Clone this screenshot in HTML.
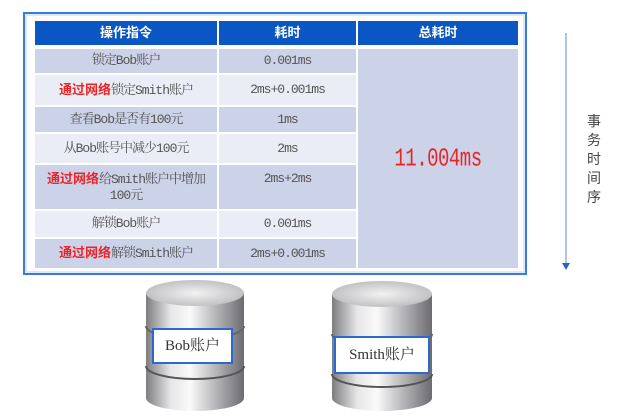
<!DOCTYPE html>
<html><head><meta charset="utf-8"><style>
body{margin:0;width:618px;height:417px;background:#fff;position:relative;overflow:hidden;font-family:"Liberation Serif","Noto Serif CJK SC",serif;}
.a{position:absolute;box-sizing:border-box;display:flex;align-items:center;justify-content:center;text-align:center;font-size:13px;letter-spacing:-1px;color:#555;line-height:16px;font-family:"Liberation Mono","Noto Serif CJK SC",monospace}
.h{background:#0a57c4;color:#fff;font-weight:bold;font-family:"Liberation Sans","Noto Sans CJK SC",sans-serif;font-size:13px;letter-spacing:0}
.d{background:#ccd2e8}.l{background:#ebedf6}
.r{color:#e8262a;font-weight:bold;font-family:"Liberation Sans","Noto Sans CJK SC",sans-serif;letter-spacing:0}
</style></head><body>
<div style="position:absolute;left:23px;top:12px;width:504px;height:263px;border:2px solid #3a7ad8;box-sizing:border-box;box-shadow:inset 0 0 0 2px #dfe9fa"></div>
<div class="a h" style="left:35px;top:21px;width:182px;height:24px">操作指令</div>
<div class="a h" style="left:219px;top:21px;width:137px;height:24px">耗时</div>
<div class="a h" style="left:358px;top:21px;width:160px;height:24px">总耗时</div>

<div class="a d" style="left:35px;top:49px;width:182px;height:24px">锁定Bob账户</div>
<div class="a d" style="left:219px;top:49px;width:137px;height:24px">0.001ms</div>
<div class="a l" style="left:35px;top:75px;width:182px;height:30px"><span><span class="r">通过网络</span>锁定Smith账户</span></div>
<div class="a l" style="left:219px;top:75px;width:137px;height:30px">2ms+0.001ms</div>
<div class="a d" style="left:35px;top:107px;width:182px;height:25px">查看Bob是否有100元</div>
<div class="a d" style="left:219px;top:107px;width:137px;height:25px">1ms</div>
<div class="a l" style="left:35px;top:134px;width:182px;height:29px">从Bob账号中减少100元</div>
<div class="a l" style="left:219px;top:134px;width:137px;height:29px">2ms</div>
<div class="a d" style="left:35px;top:165px;width:182px;height:44px;padding:0 2px"><span><span class="r">通过网络</span>给Smith账户中增加<br>100元</span></div>
<div class="a d" style="left:219px;top:165px;width:137px;height:44px;align-items:flex-start;padding-top:6px">2ms+2ms</div>
<div class="a l" style="left:35px;top:211px;width:182px;height:26px">解锁Bob账户</div>
<div class="a l" style="left:219px;top:211px;width:137px;height:26px">0.001ms</div>
<div class="a d" style="left:35px;top:239px;width:182px;height:29px"><span><span class="r">通过网络</span>解锁Smith账户</span></div>
<div class="a d" style="left:219px;top:239px;width:137px;height:29px">2ms+0.001ms</div>
<div class="a d" style="left:358px;top:49px;width:160px;height:219px;font-size:19px;letter-spacing:-0.5px;color:#e8262a"><span style="display:inline-block;transform:scaleY(1.35)">11.004ms</span></div>

<svg style="position:absolute;left:0;top:0" width="618" height="417">
<line x1="566" y1="33" x2="566" y2="264" stroke="#8fb3e8" stroke-width="1.5"/>
<polygon points="562,263 570,263 566,270" fill="#2a64c8"/>
<defs>
<linearGradient id="g" x1="0" x2="1"><stop offset="0" stop-color="#7d7d80"/><stop offset=".25" stop-color="#e6e6e8"/><stop offset=".45" stop-color="#fafafa"/><stop offset=".7" stop-color="#b9b9bc"/><stop offset="1" stop-color="#6c6c70"/></linearGradient>
<radialGradient id="t" cx=".5" cy=".5" r=".6"><stop offset="0" stop-color="#f2f2f2"/><stop offset="1" stop-color="#b8b8bc"/></radialGradient>
</defs>
<g>
<path d="M146,293 V398 A49,13 0 0 0 244,398 V293 Z" fill="url(#g)"/>
<ellipse cx="195" cy="293" rx="49" ry="13" fill="url(#t)"/>
<path d="M146,326 A49,13 0 0 0 244,326" fill="none" stroke="#666" stroke-width="2"/>
<path d="M146,366 A49,13 0 0 0 244,366" fill="none" stroke="#555" stroke-width="2"/>
</g>
<g>
<path d="M332,294 V398 A50,13 0 0 0 432,398 V294 Z" fill="url(#g)"/>
<ellipse cx="382" cy="294" rx="50" ry="13" fill="url(#t)"/>
<path d="M332,334 A50,13 0 0 0 432,334" fill="none" stroke="#666" stroke-width="2"/>
<path d="M332,374 A50,13 0 0 0 432,374" fill="none" stroke="#555" stroke-width="2"/>
</g>
</svg>
<div class="a" style="left:152px;top:328px;width:81px;height:36px;background:#fff;border:2px solid #2a6ad0;font-size:15px;letter-spacing:0;color:#333;font-family:'Liberation Serif','Noto Serif CJK SC',serif">Bob账户</div>
<div class="a" style="left:334px;top:336px;width:96px;height:38px;background:#fff;border:2px solid #2a6ad0;font-size:15px;letter-spacing:0;color:#333;font-family:'Liberation Serif','Noto Serif CJK SC',serif">Smith账户</div>
<div style="position:absolute;left:585px;top:112px;width:18px;font-family:'Liberation Sans','Noto Sans CJK SC',sans-serif;font-size:14px;line-height:19px;color:#444;text-align:center">事<br>务<br>时<br>间<br>序</div>
</body></html>
